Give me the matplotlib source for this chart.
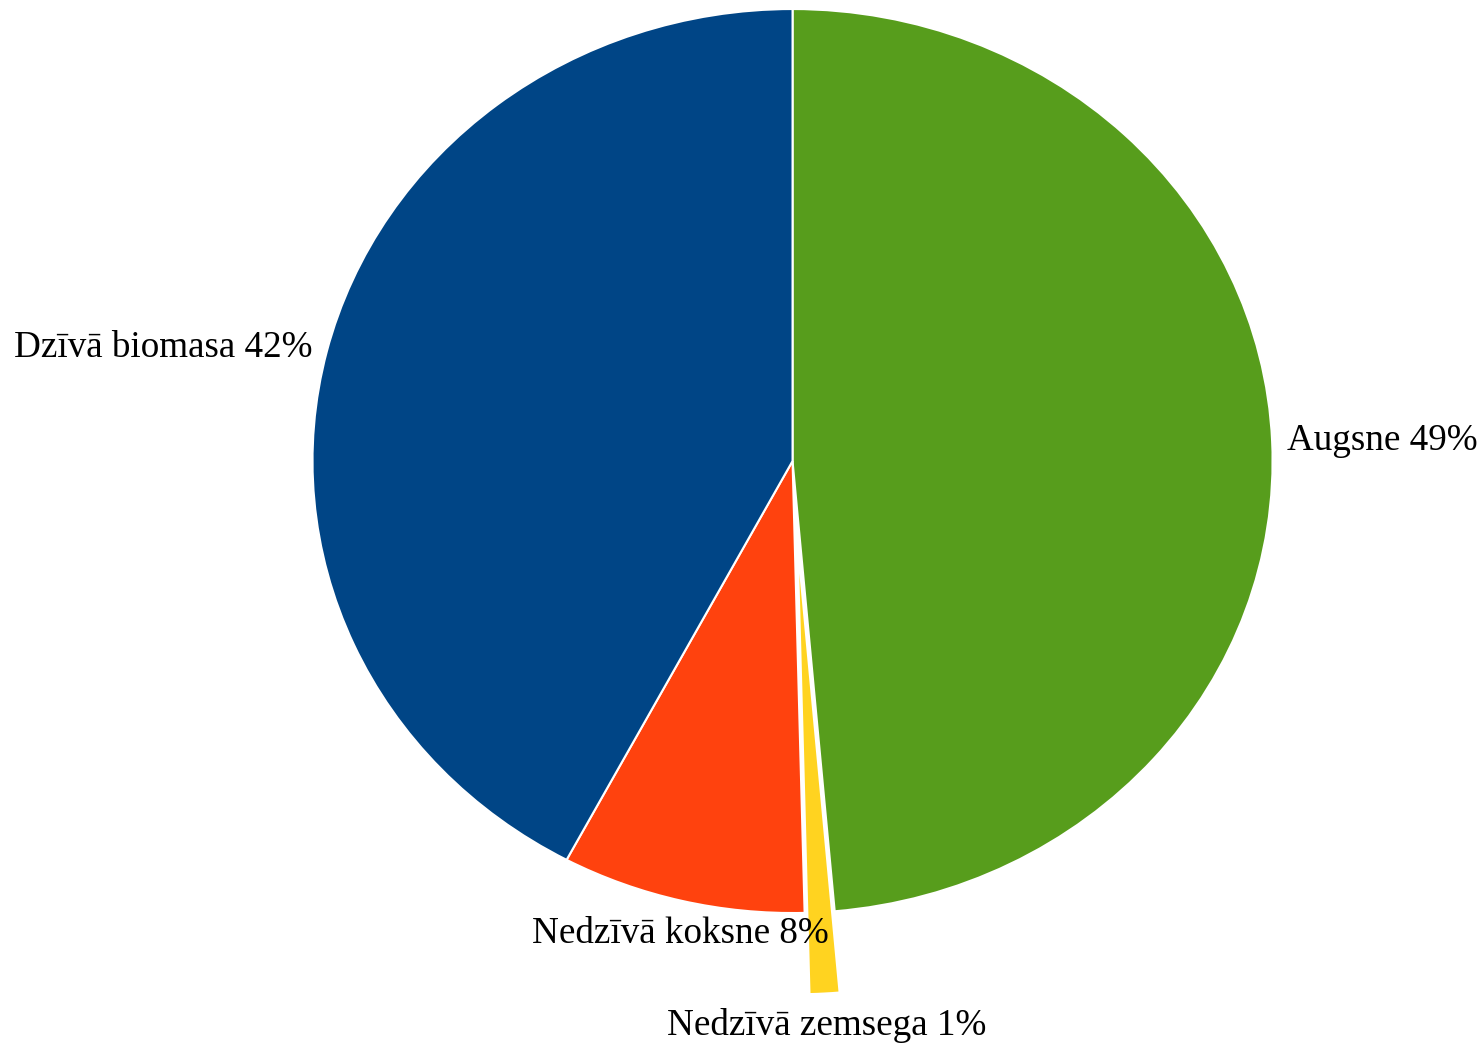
import numpy as np
import matplotlib.pyplot as plt

labels = ['Augsne', 'Nedzīvā zemsega', 'Nedzīvā koksne', 'Dzīvā biomasa']
shares = [48.6, 1.0, 8.2, 42.2]
shown = ['49%', '1%', '8%', '42%']
colors = ['#579D1C', '#FFD320', '#FF420E', '#004586']
explode = [0, 0.18, 0, 0]

plt.rcParams['font.family'] = ['Liberation Serif', 'DejaVu Serif']

fig = plt.figure(figsize=(14.79, 10.45), dpi=100)
ax = fig.add_axes([0, 0, 1, 1])

wedges, _ = ax.pie(shares, startangle=90, counterclock=False, colors=colors,
                   explode=explode,
                   wedgeprops=dict(edgecolor='white', linewidth=1.5))

# label placement outside the pie, LibreOffice style
dist = [1.03, 1.25, 1.075, 1.03]
nudge = [0, 0, 5, 0]  # small horizontal shift in points
for w, lab, s, d, n in zip(wedges, labels, shown, dist, nudge):
    ang = np.deg2rad((w.theta1 + w.theta2) / 2)
    x = np.cos(ang) * d
    y = np.sin(ang) * d
    if abs(np.cos(ang)) < 0.3:
        ha = 'center'
    elif np.cos(ang) > 0:
        ha = 'left'
    else:
        ha = 'right'
    ax.annotate(lab + ' ' + s, (x, y), xytext=(n, 0), textcoords='offset points',
                ha=ha, va='center', fontsize=26.7, color='black')

ax.set_aspect('auto')
ax.set_xlim(-1.651, 1.430)
ax.set_ylim(-1.292, 1.020)
ax.axis('off')

fig.savefig('out.png', dpi=100, facecolor='white')
